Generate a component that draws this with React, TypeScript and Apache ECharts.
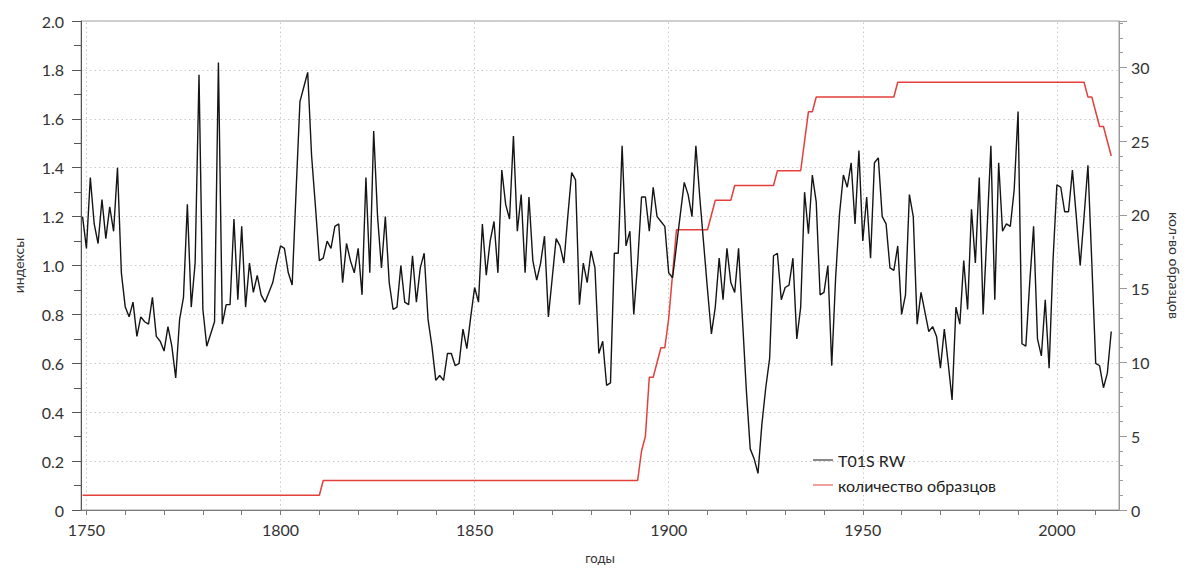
import React, { useEffect, useRef } from 'react';
import * as echarts from 'echarts';

// Annual tree-ring width index, one value per year starting at FIRST_YEAR
const FIRST_YEAR = 1749;
const ringIndex = [
  1.20,
  1.07, 1.36, 1.17, 1.09, 1.27, 1.11, 1.24, 1.14, 1.40, 0.97,
  0.83, 0.79, 0.85, 0.71, 0.79, 0.77, 0.76, 0.87, 0.71, 0.69,
  0.65, 0.75, 0.67, 0.54, 0.78, 0.87, 1.25, 0.83, 1.01, 1.78,
  0.82, 0.67, 0.72, 0.77, 1.83, 0.76, 0.84, 0.84, 1.19, 0.86,
  1.16, 0.83, 1.01, 0.89, 0.96, 0.88, 0.85, 0.89, 0.93, 1.01,
  1.08, 1.07, 0.97, 0.92, 1.30, 1.67, 1.73, 1.79, 1.45, 1.24,
  1.02, 1.03, 1.10, 1.07, 1.16, 1.17, 0.93, 1.09, 1.02, 0.97,
  1.07, 0.88, 1.36, 0.97, 1.55, 1.20, 0.99, 1.20, 0.93, 0.82,
  0.83, 1.00, 0.85, 0.84, 1.04, 0.85, 0.99, 1.05, 0.78, 0.67,
  0.53, 0.55, 0.53, 0.64, 0.64, 0.59, 0.60, 0.74, 0.66, 0.79,
  0.91, 0.85, 1.17, 0.96, 1.10, 1.18, 0.97, 1.39, 1.25, 1.19,
  1.53, 1.14, 1.29, 0.97, 1.28, 1.02, 0.94, 1.01, 1.12, 0.79,
  0.95, 1.11, 1.08, 1.01, 1.20, 1.38, 1.35, 0.84, 1.01, 0.93,
  1.06, 0.99, 0.64, 0.69, 0.51, 0.52, 1.05, 1.05, 1.49, 1.08,
  1.14, 0.80, 1.01, 1.28, 1.28, 1.14, 1.32, 1.20, 1.18, 1.16,
  0.97, 0.95, 1.08, 1.21, 1.34, 1.29, 1.20, 1.49, 1.28, 1.09,
  0.90, 0.72, 0.83, 1.03, 0.86, 1.07, 0.93, 0.89, 1.07, 0.78,
  0.49, 0.25, 0.21, 0.15, 0.35, 0.50, 0.62, 1.04, 1.05, 0.86,
  0.91, 0.92, 1.03, 0.70, 0.83, 1.30, 1.13, 1.37, 1.26, 0.88,
  0.89, 1.00, 0.59, 0.95, 1.21, 1.37, 1.32, 1.42, 1.17, 1.47,
  1.10, 1.28, 1.03, 1.42, 1.44, 1.20, 1.17, 0.99, 0.98, 1.08,
  0.80, 0.88, 1.29, 1.20, 0.76, 0.89, 0.81, 0.73, 0.75, 0.71,
  0.58, 0.74, 0.60, 0.45, 0.83, 0.76, 1.02, 0.82, 1.23, 1.01,
  1.36, 0.80, 1.14, 1.49, 0.86, 1.42, 1.14, 1.17, 1.16, 1.31,
  1.63, 0.68, 0.67, 0.93, 1.16, 0.70, 0.63, 0.86, 0.58, 1.02,
  1.33, 1.32, 1.22, 1.22, 1.39, 1.20, 1.00, 1.20, 1.41, 1.01,
  0.60, 0.59, 0.50, 0.56, 0.73,
];

// Sample depth: years where the number of samples changes (straight segments between them)
const countYears = [
  1749, 1810, 1811, 1892, 1893, 1894, 1895, 1896, 1897, 1898, 1899, 1900, 1901, 1902,
  1910, 1911, 1912, 1916, 1917, 1927, 1928, 1934, 1935, 1936, 1937, 1938, 1958, 1959,
  2007, 2008, 2009, 2010, 2011, 2012, 2013, 2014,
];
const countValues = [
  1, 1, 2, 2, 4, 5, 9, 9, 10, 11, 11, 13, 16, 19,
  19, 20, 21, 21, 22, 22, 23, 23, 25, 27, 27, 28, 28, 29,
  29, 28, 28, 27, 26, 26, 25, 24,
];

const labelYears = [1750, 1800, 1850, 1900, 1950, 2000];
const tickYears = [
  1750, 1760, 1770, 1780, 1790, 1800, 1810, 1820, 1830, 1840, 1850, 1860, 1870, 1880,
  1890, 1900, 1910, 1920, 1930, 1940, 1950, 1960, 1970, 1980, 1990, 2000, 2010,
];

const SERIES_INDEX = 'T01S RW';
const SERIES_COUNT = 'количество образцов';
const FONT = 'Lato, "Noto Sans", sans-serif';
const GRID_LINE = { color: '#c8c8c8', type: [1.5, 3] as number[], width: 1 };

export default function App() {
  const ref = useRef<HTMLDivElement>(null);

  useEffect(() => {
    document.body.style.margin = '0';
    const chart = echarts.init(ref.current!, null, { renderer: 'svg' });

    const indexData = ringIndex.map((v, i) => [FIRST_YEAR + i, v]);
    const countData = countYears.map((y, i) => [y, countValues[i]]);

    chart.setOption({
      animation: false,
      backgroundColor: '#ffffff',
      textStyle: { fontFamily: FONT },
      grid: {
        left: 81,
        right: 72,
        top: 21,
        bottom: 53,
        show: true,
        borderColor: '#a0a0a0',
        borderWidth: 1,
        backgroundColor: 'transparent',
      },
      legend: {
        orient: 'vertical',
        left: 808,
        top: 447,
        itemWidth: 20,
        itemHeight: 12,
        itemGap: 9,
        icon: 'path://M0,0 L20,0 L20,1 L0,1 Z',
        textStyle: { fontFamily: FONT, fontSize: 16, color: '#222' },
        data: [SERIES_INDEX, SERIES_COUNT],
      },
      xAxis: {
        type: 'value',
        min: 1748.6,
        max: 2016,
        name: 'годы',
        nameLocation: 'middle',
        nameGap: 41,
        nameTextStyle: { fontFamily: FONT, fontSize: 13, color: '#333' },
        axisLine: { show: true, lineStyle: { color: '#7a7a7a', width: 1 } },
        axisTick: {
          show: true,
          length: 5,
          customValues: tickYears,
          lineStyle: { color: '#7a7a7a' },
        },
        axisLabel: {
          customValues: labelYears,
          margin: 11,
          fontFamily: FONT,
          fontSize: 16,
          color: '#333',
          formatter: (v: number) => String(v),
        },
        splitLine: { show: false },
      },
      yAxis: [
        {
          type: 'value',
          min: 0,
          max: 2,
          interval: 0.2,
          name: 'индексы',
          nameLocation: 'middle',
          nameGap: 56,
          nameTextStyle: { fontFamily: FONT, fontSize: 14, color: '#333' },
          axisLine: { show: true, lineStyle: { color: '#555', width: 1 } },
          axisTick: { show: true, length: 9, lineStyle: { color: '#555' } },
          minorTick: { show: true, splitNumber: 2, length: 7, lineStyle: { color: '#555' } },
          axisLabel: {
            margin: 17,
            fontFamily: FONT,
            fontSize: 16,
            color: '#333',
            formatter: (v: number) => (v === 0 ? '0' : v.toFixed(1)),
          },
          splitLine: { show: true, lineStyle: GRID_LINE },
        },
        {
          type: 'value',
          min: 0,
          max: 33.15,
          interval: 5,
          position: 'right',
          name: 'кол-во образцов',
          nameLocation: 'middle',
          nameGap: 48,
          nameRotate: -90,
          nameTextStyle: { fontFamily: FONT, fontSize: 14, color: '#333' },
          axisLine: { show: true, lineStyle: { color: '#9a9a9a', width: 1 } },
          axisTick: { show: true, length: 8, lineStyle: { color: '#9a9a9a' } },
          minorTick: { show: true, splitNumber: 5, length: 4, lineStyle: { color: '#9a9a9a' } },
          axisLabel: {
            margin: 12,
            fontFamily: FONT,
            fontSize: 16,
            color: '#333',
            showMaxLabel: false,
            formatter: (v: number) => (Math.abs(v % 5) < 1e-6 ? String(v) : ''),
          },
          splitLine: { show: false },
        },
      ],
      series: [
        {
          name: SERIES_INDEX,
          type: 'line',
          yAxisIndex: 0,
          data: indexData,
          symbol: 'none',
          showSymbol: false,
          color: '#151515',
          lineStyle: { color: '#151515', width: 1.4 },
          z: 3,
          markLine: {
            silent: true,
            symbol: ['none', 'none'],
            label: { show: false },
            lineStyle: GRID_LINE,
            data: labelYears.map((y) => ({ xAxis: y })),
            z: 1,
          },
        },
        {
          name: SERIES_COUNT,
          type: 'line',
          yAxisIndex: 1,
          data: countData,
          symbol: 'none',
          showSymbol: false,
          color: '#e4403b',
          lineStyle: { color: '#e4403b', width: 1.5 },
          z: 2,
        },
      ],
    });

    return () => chart.dispose();
  }, []);

  return <div ref={ref} style={{ width: 1191, height: 569 }} />;
}
